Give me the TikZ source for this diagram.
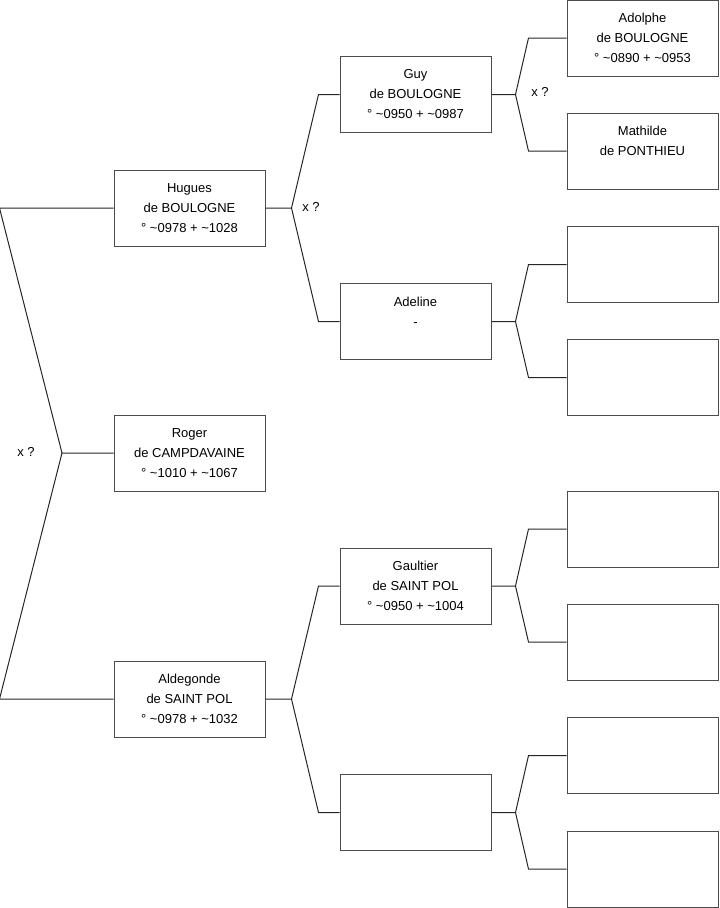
\documentclass[tikz,border=0pt]{standalone}
\usepackage{fontspec}
\setmainfont{Liberation Sans}
\usetikzlibrary{calc}

\begin{document}
\begin{tikzpicture}[x=0.75pt, y=-0.75pt,
    persona/.style={draw=black!70, line width=0.75pt, minimum width=113.25pt,
        minimum height=57pt, inner sep=0pt, align=center,
        font=\fontsize{9.75}{15}\selectfont},
    lligam/.style={draw=black!85, line width=0.75pt},
    unio/.style={font=\fontsize{9.75}{12}\selectfont}]
    \useasboundingbox (0,0) rectangle (719,908);
    % Generacio 1
    \node[persona] (hugues) at (189.5,208) {Hugues\\de BOULOGNE\\° \textasciitilde0978 + \textasciitilde1028};
    \node[persona] (roger) at (189.5,453) {Roger\\de CAMPDAVAINE\\° \textasciitilde1010 + \textasciitilde1067};
    \node[persona] (aldegonde) at (189.5,699) {Aldegonde\\de SAINT POL\\° \textasciitilde0978 + \textasciitilde1032};
    % Generacio 2
    \node[persona] (guy) at (415.5,94.5) {Guy\\de BOULOGNE\\° \textasciitilde0950 + \textasciitilde0987};
    \node[persona] (adeline) at (415.5,321.5) {Adeline\\-\\\phantom{° \textasciitilde0000}};
    \node[persona] (gaultier) at (415.5,586) {Gaultier\\de SAINT POL\\° \textasciitilde0950 + \textasciitilde1004};
    \node[persona] (buit) at (415.5,812.5) {};
    % Generacio 3
    \node[persona] (adolphe) at (642.5,38) {Adolphe\\de BOULOGNE\\° \textasciitilde0890 + \textasciitilde0953};
    \node[persona] (mathilde) at (642.5,151) {Mathilde\\de PONTHIEU\\\phantom{° \textasciitilde0000}};
    \foreach \n/\y in {c3/264.5, c4/377.5, c5/529, c6/642, c7/755.5, c8/869}
        \node[persona] (\n) at (642.5,\y) {};
    % Unions
    \coordinate (u0) at (62,453);
    \draw[lligam] (hugues.west) -- ++(-114,0) -- (u0) -- (roger.west);
    \draw[lligam] (aldegonde.west) -- ++(-114,0) -- (u0);
    \foreach \p/\a/\b in {hugues/guy/adeline, aldegonde/gaultier/buit} {
        \draw[lligam] (\a.west) -- ++(-21,0) -- ($(\p.east)+(26,0)$) -- (\p.east);
        \draw[lligam] (\b.west) -- ++(-21,0) -- ($(\p.east)+(26,0)$);
    }
    \foreach \p/\a/\b in {guy/adolphe/mathilde, adeline/c3/c4, gaultier/c5/c6, buit/c7/c8} {
        \draw[lligam] (\a.west) -- ++(-38,0) -- ($(\p.east)+(24,0)$) -- (\p.east);
        \draw[lligam] (\b.west) -- ++(-38,0) -- ($(\p.east)+(24,0)$);
    }
    \node[unio] (x1) at (26,452) {x ?};
    \node[unio] (x2) at (311,207) {x ?};
    \node[unio] (x3) at (540,92) {x ?};
\end{tikzpicture}
\end{document}
